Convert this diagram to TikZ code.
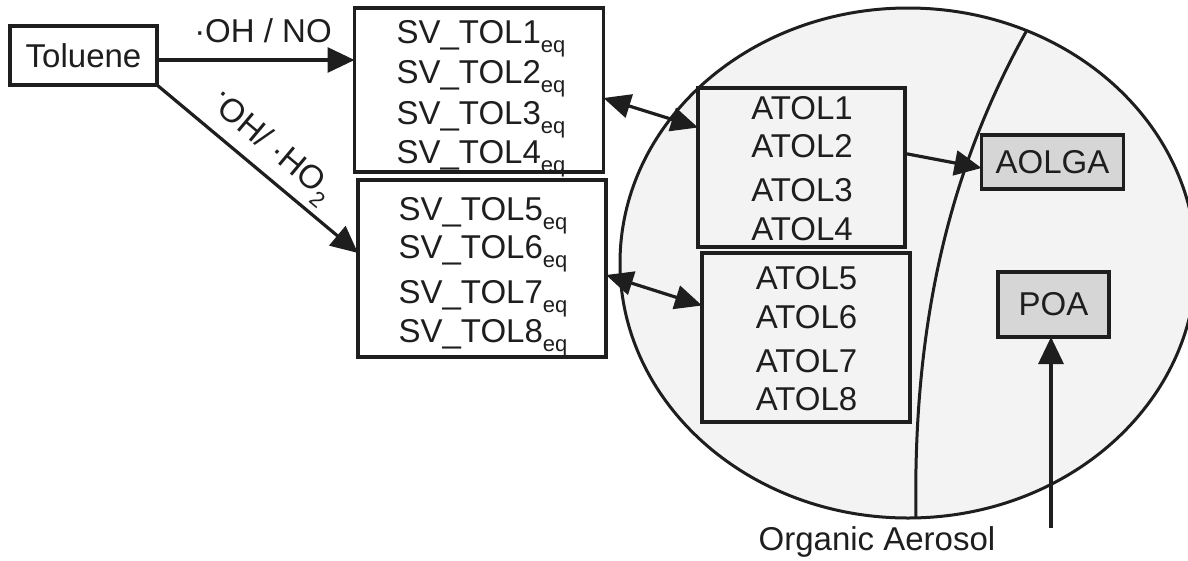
\documentclass[tikz,border=0pt]{standalone}
\usepackage{fontspec}
\setmainfont{Liberation Sans}
\usetikzlibrary{arrows.meta,calc}
\definecolor{ink}{HTML}{1E1E1E}
\definecolor{aerofill}{HTML}{F3F3F3}
\definecolor{boxgray}{HTML}{D6D6D6}
\newcommand\subeq{\raisebox{-0.3em}{\fontsize{22}{22}\selectfont eq}}
\newcommand\subtwo{\raisebox{-0.3em}{\fontsize{22}{22}\selectfont 2}}
\begin{document}
\begin{tikzpicture}[x=1pt,y=-1pt,
  every node/.style={font=\fontsize{33}{40}\selectfont, text=ink, inner sep=0pt, outer sep=0pt},
  box/.style={draw=ink, line width=3.4pt, rectangle},
  graybox/.style={box, fill=boxgray},
  txt/.style={anchor=base},
  arr/.style={draw=ink, line width=3.2pt, -{Triangle[length=27pt,width=25pt]}},
  darr/.style={draw=ink, line width=3.2pt, {Triangle[length=27pt,width=24pt]}-{Triangle[length=27pt,width=24pt]}},
]
\useasboundingbox (0,0) rectangle (1188,560);
\clip (0,0) rectangle (1188,560);
\fill[white] (0,0) rectangle (1188,560);

% aerosol particle
\draw[ink, line width=3pt, fill=aerofill] (908,263) ellipse [x radius=288, y radius=255];
\draw[ink, line width=3pt] (1027,30) .. controls (960,150) and (912,300) .. (916,518);

% boxes
\node[box, minimum width=147pt, minimum height=59pt] (tol) at (83.5,55.5) {Toluene};
\node[box, minimum width=249pt, minimum height=164pt] (svA) at (479,90) {};
\node[box, minimum width=248pt, minimum height=177pt] (svB) at (482,268.5) {};
\node[box, minimum width=207pt, minimum height=159pt] (atA) at (801.5,167.5) {};
\node[box, minimum width=208pt, minimum height=169pt] (atB) at (806,337.5) {};
\node[graybox, minimum width=142pt, minimum height=54pt] (aolga) at (1052.5,162) {AOLGA};
\node[graybox, minimum width=111pt, minimum height=65pt] (poa) at (1053.5,304.5) {POA};

% box texts
\foreach \i/\y in {1/43,2/83,3/124,4/163}
  \node[txt] (svl\i) at (481,\y) {SV\_TOL\i\subeq};
\foreach \i/\y in {5/220,6/258,7/303,8/342}
  \node[txt] (svl\i) at (483,\y) {SV\_TOL\i\subeq};
\foreach \i/\y in {1/119,2/157,3/201,4/240}
  \node[txt] (atl\i) at (802,\y) {ATOL\i};
\foreach \i/\y in {5/289,6/328,7/372,8/410}
  \node[txt] (atl\i) at (806.5,\y) {ATOL\i};

% labels
\node[txt] (lab1) at (263,42) {·OH / NO};
\node[rotate=-40] (lab2) at (270,148) {\raisebox{0.3em}{·}OH/ ·HO\subtwo};
\node[txt] (oa) at (877,550) {Organic Aerosol};

% connectors
\draw[arr] ($(tol.east)+(0,4.5)$) -- ($(svA.west)+(0,-30)$);
\draw[arr] (tol.south east) -- ($(svB.west)+(0,-15.5)$);
\draw[darr] ($(svA.east)+(0,8)$) -- ($(atA.west)+(0,-40)$);
\draw[darr] ($(svB.east)+(0,6.5)$) -- ($(atB.west)+(0,-32)$);
\draw[arr] ($(atA.east)+(0,-14)$) -- ($(aolga.west)+(0,6)$);
\coordinate (poafoot) at (1051,528);
\draw[arr] (poafoot) -- (poafoot |- poa.south);
\end{tikzpicture}
\end{document}
